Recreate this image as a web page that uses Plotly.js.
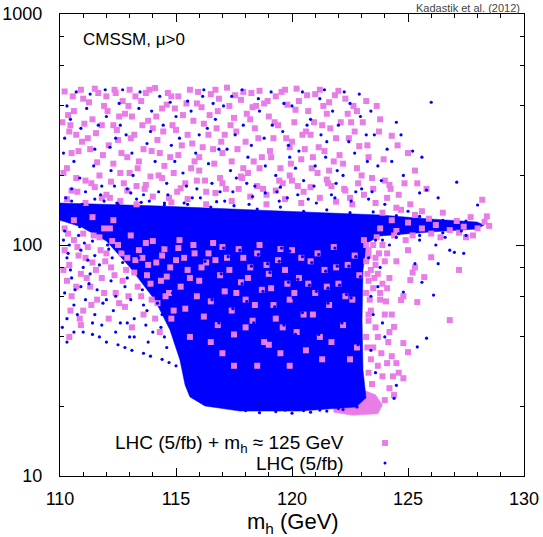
<!DOCTYPE html>
<html><head><meta charset="utf-8">
<script src="https://cdn.plot.ly/plotly-3.0.1.min.js"></script>
<style>html,body{margin:0;padding:0;background:#fff}#chart{width:543px;height:537px}</style>
</head><body><div id="chart"></div>
<script>
// ---- axis / tick data ----
const xTickVals = [110, 115, 120, 125, 130];
const yTickVals = [10, 100, 1000];
const yTickText = ['10', '100', '1000'];
const yMinorVals = [20, 40, 60, 80, 200, 400, 600, 800];
const seriesNames = ['LHC (5/fb) + m<sub>h</sub> \u2248 125 GeV', 'LHC (5/fb)'];
const xTitle = 'm<sub>h</sub> (GeV)';

// ---- outline of the region where the blue points merge into a solid cloud, [mh, y] ----
const blueCoreOutline = [[110.0,152],[114.31,147.5],[119.48,140.3],[123.79,134.9],[125.95,129.6],[127.97,125.8],[128.28,122.1],[127.97,117.3],[125.95,113.8],[123.79,109.4],[123.23,102],[123.06,78],[123.02,47.4],[123.06,28.8],[123.19,21.8],[122.76,19.9],[120.34,19.1],[117.76,19.1],[116.25,20.1],[115.6,22.0],[115.39,24.8],[115.17,31.8],[114.74,42.9],[114.09,57.8],[113.02,80],[112.0,104],[110.9,120],[110.0,128]];
// pink points piled up below the bottom-right of the cloud
const pinkEdgeOutline = [[121.8,19.6],[123.1,23.5],[123.6,22.5],[123.9,20.3],[123.7,18.6],[122.6,18.3],[121.8,18.9]];

// ---- LHC (5/fb) + mh ~ 125 GeV (pink squares), [mh, y] ----
const pinkUpper = [[110.2,462],[110.4,310],[110.3,215],[110.6,380],[110.5,172],[110.8,255],[111.0,430],[111.2,290],[111.1,190],[111.4,350],[111.5,475],[111.6,228],[111.9,400],[112.0,165],[112.1,270],[112.3,330],[112.4,455],[112.6,205],[112.8,370],[112.9,240],[113.0,470],[113.2,300],[113.3,180],[113.5,420],[113.6,260],[113.8,345],[113.9,198],[114.1,478],[114.2,285],[114.4,390],[114.5,220],[114.7,160],[114.8,440],[115.0,315],[115.1,245],[115.3,365],[115.4,185],[115.6,470],[115.7,275],[115.9,410],[116.0,210],[116.2,335],[116.3,170],[116.5,450],[116.6,260],[116.8,380],[116.9,195],[117.1,300],[117.2,480],[117.4,230],[117.5,355],[117.7,175],[117.8,425],[118.0,280],[118.1,205],[118.3,395],[118.4,320],[118.6,465],[118.7,240],[118.9,165],[119.0,360],[119.2,290],[119.3,440],[119.5,215],[119.6,185],[119.8,405],[119.9,265],[120.1,340],[120.2,475],[120.4,235],[120.5,170],[120.7,380],[120.8,300],[121.0,450],[121.1,205],[121.3,330],[121.4,255],[121.6,415],[121.7,180],[121.9,290],[122.0,465],[122.2,225],[122.4,370],[122.5,160],[122.7,310],[122.9,268],[123.0,200],[123.3,240],[123.5,175],[123.75,310],[124.3,297],[125.0,250],[124.0,190],[125.8,175],[124.6,165],
  [110.1,340],[110.9,470],[110.7,300],[111.3,260],[111.8,330],[112.0,440],[112.5,285],[112.7,420],[113.1,360],[113.4,230],[113.7,455],[114.0,320],[114.3,250],[114.6,405],[115.1,440],[115.5,300],[115.8,230],[116.1,395],[116.4,300],[116.7,470],[117.0,250],[117.3,400],[117.6,310],[117.9,460],[118.2,350],[118.6,215],[118.8,410],[119.1,240],[119.4,330],[119.7,470],[120.0,280],[120.3,420],[120.6,310],[120.9,240],[121.2,470],[121.5,370],[121.8,230],[122.1,340],[122.3,430],[122.8,380],[123.2,420],[123.8,350],[110.5,250],[111.7,200],[112.3,225],[113.0,205],[114.9,205],[116.0,240],[117.9,215],[119.9,200],[121.6,210],[122.8,215],
  [110.3,158],[110.7,195],[111.1,152],[111.5,178],[111.8,160],[112.2,188],[112.6,155],[112.9,172],[113.3,150],[113.7,182],[114.0,162],[114.4,195],[114.8,153],[115.2,176],[115.5,158],[115.9,190],[116.3,150],[116.7,168],[117.0,185],[117.4,155],[117.8,198],[118.2,162],[118.5,180],[118.9,150],[119.3,172],[119.7,158],[120.0,190],[120.4,152],[120.8,178],[121.2,160],[121.5,192],[121.9,154],[122.3,172],[122.6,150],[123.1,165],[123.6,152],[124.1,160],[124.5,145],[125.1,150],[125.6,140],
  [110.15,205],[110.35,365],[110.55,440],[110.75,170],[110.95,280],[111.05,335],[111.25,415],[111.35,185],[111.55,305],[111.65,455],[111.85,245],[112.05,380],[112.15,160],[112.35,470],[112.45,315],[112.65,250],[112.75,185],[112.95,400],[113.05,290],[113.25,440],[113.35,215],[113.55,330],[113.65,175],[113.85,470],[113.95,255],[114.15,360],[114.25,200],[114.45,310],[114.65,455],[114.75,240],[114.95,390],[115.05,170],[115.25,270],[115.45,410],[115.65,215],[115.75,345],[115.95,460],[116.15,265],[116.25,190],[116.45,365],[116.65,225],[116.85,430],[116.95,280],[117.15,175],[117.35,330],[117.55,445],[117.65,260],[117.85,195],[118.05,370],[118.25,455],[118.35,230],[118.55,290],[118.75,175],[118.95,420],[119.05,255],[119.25,340],[119.45,190],[119.55,460],[119.75,290],[119.95,225],[120.15,385],[120.25,180],[120.45,300],[120.65,445],[120.85,215],[120.95,340],[121.15,265],[121.35,400],[121.55,185],[121.65,320],[121.85,445],[122.05,245],[122.25,175],[122.45,290],[122.65,400],[122.85,185],[123.05,340],[123.25,270],[123.45,195],[123.65,400],[123.95,235],[124.25,175],[124.55,270],[124.85,185],[125.3,210],[110.45,330],[112.55,360],[114.85,330],[116.75,320],[118.45,400],[120.55,260],[122.55,340]];
const pinkLeft = [[110.2,95],[110.4,82],[110.3,70],[110.6,105],[110.5,60],[110.8,90],[110.9,75],[111.0,52],[111.2,98],[111.3,66],[111.4,84],[111.6,58],[111.7,108],[111.8,72],[112.0,92],[112.1,48],[112.2,80],[112.4,62],[112.5,100],[112.7,70],[112.8,54],[112.9,88],[113.1,44],[113.2,76],[113.4,95],[113.5,60],[113.6,50],[113.8,82],[113.9,68],[114.0,104],[114.2,56],[114.3,42],[114.4,90],[114.6,73],[114.7,62],[114.8,48],[115.0,86],[115.1,97],[115.2,66],[115.4,53],[115.5,78],[115.6,40],[115.8,92],[115.9,60],[116.0,70],[116.2,49],[116.3,84],[116.5,57],[116.6,102],[116.8,45],[116.9,74],[117.1,63],[117.2,88],[117.4,52],[117.5,41],[117.7,96],[117.8,69],[118.0,58],[118.2,80],[118.3,47],[118.5,92],[118.7,64],[118.8,38],[119.0,75],[119.2,55],[119.4,86],[119.6,44],[119.8,68],
  [110.2,118],[110.6,128],[111.0,112],[111.4,132],[111.9,118],[112.3,128],[110.4,40],[110.9,45],
  [110.15,78],[110.35,112],[110.45,52],[110.7,66],[110.75,98],[110.85,48],[111.1,88],[111.15,72],[111.35,55],[111.45,110],[111.55,78],[111.75,95],[111.9,62],[111.95,85],[112.15,118],[112.25,104],[112.35,74],[112.55,56],[112.65,92],[112.85,78],[112.95,60],[113.05,110],[113.25,86],[113.35,66],[113.55,88],[113.7,102],[113.75,74],[113.95,58],[114.1,48],[114.15,84],[114.35,70],[114.5,96],[114.55,60],[114.75,80],[114.9,52],[115.15,105],[115.35,88],[115.6,72],[115.75,100],[116.1,80],[116.4,92],[116.7,86],[117.0,98],[117.3,78],[117.6,62],[117.9,88],[118.1,72],[118.4,55],[118.6,100],[118.9,82],[119.1,65],[119.3,48],[119.5,96],[119.7,78],[119.9,58],[120.2,42],[120.4,88],[120.7,68],[120.9,50],[121.1,92],[121.5,66],[121.9,80],[122.3,60],[122.7,90],[116.5,38],[117.0,34],[117.5,30],[118.0,44],[118.5,30],[119.0,37],[119.5,34],[120.1,62],[121.7,38],[122.5,32]];
const pinkCore = [[120.0,95],[120.3,72],[120.5,50],[120.8,85],[121.0,62],[121.2,40],[121.4,78],[121.6,55],[121.8,98],[122.0,68],[122.2,45],[122.4,82],[122.6,58],[122.8,36],[122.9,74],[121.3,32],[120.6,35],[119.9,30]];
const pinkRight = [[123.1,105],[123.3,95],[123.2,85],[123.5,100],[123.4,78],[123.6,88],[123.3,70],[123.7,75],[123.2,62],[123.5,65],[123.8,58],[123.4,52],[123.9,68],[123.3,47],[123.6,44],[124.0,50],[123.2,40],[123.5,36],[124.2,42],[123.4,32],[123.7,30],[124.3,33],[123.9,27],[124.1,92],[124.5,85],[124.8,60],[125.0,95],[124.4,110],[123.8,118],[124.9,105],[125.3,80],[124.6,28],[124.2,24],
  [127.2,78],[126.8,47.3],[125.4,56.6],[125.7,72.6],[124.8,37.6],[125.0,34.4],[124.5,30.8],[124.8,26.5],[124.4,22.4],[124.0,21.3],[124.1,30.8],[124.4,44.2],[124.7,57.8],[125.1,70.5],[125.2,76],[126.0,88.5],[126.4,108],[127.5,108],[128.2,157],[128.4,133],[127.8,110],[125.4,185],[124.2,182],
  [123.9,138],[124.3,128],[124.7,142],[125.0,125],[125.3,135],[125.6,118],[125.9,130],[126.2,122],[126.5,138],[126.8,116],[127.1,127],[127.4,120],[127.7,132],[128.0,118],[128.3,126],[128.5,121],[126.0,112],[125.2,110],[124.5,115],[127.2,113],
  [123.2,100],[123.3,90],[123.25,75],[123.35,58],[123.3,50],[123.25,36],[123.3,28],[123.45,25],[123.6,82],[123.75,92],[123.55,72],[123.8,62],[123.7,40],[123.85,34],[123.9,100],[123.65,108],[124.0,85],[124.05,57],[124.2,72],[124.1,65],[124.3,50],[124.15,38],[124.35,27]];

// ---- LHC (5/fb) (blue dots), [mh, y] ----
const blueUpper = [[110.3,400],[110.6,230],[110.9,320],[111.1,170],[111.3,450],[111.5,260],[111.8,180],[112.0,360],[112.2,210],[112.4,290],[112.7,470],[112.9,175],[113.1,250],[113.4,390],[113.6,165],[113.9,310],[114.1,230],[114.3,440],[114.6,185],[114.8,270],[115.0,360],[115.3,205],[115.5,420],[115.7,160],[116.0,300],[116.2,470],[116.4,225],[116.7,350],[116.9,170],[117.2,260],[117.4,440],[117.6,195],[117.9,330],[118.1,240],[118.4,180],[118.6,380],[118.8,290],[119.1,460],[119.3,200],[119.6,310],[119.8,160],[120.0,400],[120.3,255],[120.5,190],[120.8,350],[121.0,220],[121.2,430],[121.5,280],[121.7,165],[122.0,330],[122.2,200],[122.5,410],[122.7,250],[123.0,175],[123.2,300],[123.4,380],[123.7,220],[124.1,260],[124.5,340],[125.2,255],[126.0,415],[124.8,200],[125.5,168],[126.3,160],[110.5,175],[111.9,155],[113.3,158],[114.5,152],[115.9,175],[117.1,155],[118.3,162],[119.5,178],[120.7,158],[121.9,185],[123.3,158],[124.0,150],[125.0,140],[125.8,173],[127.1,187],[128.0,149],[110.2,290],[112.6,330],[116.6,410],[119.9,240],[121.4,470],[122.9,450],
  [110.15,250],[110.45,350],[110.7,460],[110.85,195],[111.15,390],[111.45,220],[111.65,330],[111.95,470],[112.15,265],[112.35,180],[112.55,410],[112.85,300],[113.15,200],[113.45,460],[113.75,275],[113.95,380],[114.25,170],[114.45,330],[114.75,415],[114.95,230],[115.15,290],[115.45,180],[115.65,380],[115.85,250],[116.15,440],[116.35,320],[116.55,185],[116.85,260],[117.05,400],[117.35,210],[117.55,300],[117.85,470],[118.05,185],[118.25,270],[118.55,430],[118.85,220],[119.15,330],[119.35,170],[119.65,410],[119.85,270],[120.15,215],[120.45,460],[120.65,330],[120.95,180],[121.25,300],[121.45,240],[121.75,380],[121.95,210],[122.25,460],[122.45,280],[122.75,170],[122.95,360],[123.25,230],[123.55,300],[123.85,190],[124.3,230],[124.7,300],[125.6,240],[110.25,160],[110.95,150],[111.75,165],[112.45,152],[113.05,168],[113.85,155],[114.65,165],[115.35,152],[116.05,160],[116.75,154],[117.45,170],[118.15,150],[118.85,168],[119.45,155],[120.25,165],[121.05,152],[121.85,160],[122.55,155],[123.45,170]];
const blueBand = [[110.5,155],[111.5,158],[112.5,150],[113.5,153],[114.5,149],[115.5,150],[116.5,146],[117.5,148],[118.5,143],[119.5,146],[120.5,140],[121.5,142],[122.5,138],[123.5,139],[124.5,134],[125.5,133],[126.5,128],[127.5,127],[124.5,108],[125.5,110],[126.5,113],[127.3,115],[123.6,105]];
const blueCore = [[119.9,94],[120.25,71],[120.45,51],[120.85,84],[121.05,63],[121.15,41],[121.45,77],[121.55,56],[121.85,97],[122.05,67],[122.15,46],[122.45,81],[122.55,59],[122.85,37],[122.95,73],[117.05,97],[117.25,89],[117.45,53],[117.75,95],[117.85,68],[118.05,57],[118.25,81],[118.35,46],[118.55,91],[118.75,63],[119.05,76],[119.25,54],[119.45,85],[119.65,45],[119.85,69],[116.55,58],[116.85,46],[116.95,75],[116.25,85],[120.15,41],[120.45,89],[120.75,67],[121.15,91],[121.55,65],[121.95,81],[122.35,61],[122.75,89],[118.95,83],[119.55,97],[120.05,59]];
const blueLeft = [[110.2,115],[110.4,100],[110.3,88],[110.5,72],[110.2,62],[110.6,55],[110.3,48],[110.1,44],[110.8,110],[110.9,95],[111.0,80],[110.9,66],[111.1,58],[111.0,42],[111.3,120],[111.4,104],[111.5,90],[111.3,75],[111.6,64],[111.5,50],[111.8,45],[111.7,40],[112.0,112],[112.1,96],[112.2,70],[112.0,58],[112.3,52],[112.4,42],[112.5,37],[112.6,108],[112.7,84],[112.8,66],[112.9,46],[113.0,40],[113.1,35],[113.3,118],[113.4,100],[113.5,72],[113.6,55],[113.7,45],[113.8,38],[113.9,33],[114.1,92],[114.2,78],[114.3,64],[114.4,50],[114.5,40],[114.6,36],[114.7,31],[114.9,110],[115.0,70],[115.1,58],[115.2,44],[115.3,34],[115.4,29],[115.6,27],[115.8,25],[116.0,23.5],[116.3,22],[116.6,21],[117.0,20.3],[117.5,19.6],[118.0,19.2],[118.6,18.8],[119.3,19.0],[120.0,18.7],[120.8,18.9],[121.5,19.1],[122.2,19.4],[122.8,19.9],[116.2,24.8],[116.8,22.6],[117.4,21.3],[115.5,31],[115.0,38],[114.0,42],[113.2,48],
  [110.15,105],[110.35,92],[110.45,78],[110.65,64],[110.75,50],[110.85,120],[111.05,102],[111.2,86],[111.25,68],[111.4,46],[111.55,115],[111.7,82],[111.85,56],[112.05,100],[112.25,88],[112.4,60],[112.6,46],[112.75,96],[112.9,72],[113.05,58],[113.2,40],[113.4,88],[113.55,64],[113.75,52],[113.9,110],[114.05,72],[114.2,56],[114.35,44],[114.55,100],[114.7,86],[114.85,62],[115.05,50],[115.25,38],[115.4,42],[115.7,33],[115.9,28],[116.1,26],[116.4,23.6],[116.7,22.4],[117.2,21],[117.8,20.1],[118.4,19.6],[119.0,19.4],[119.7,19.3],[120.5,19.2],[121.2,19.3],[122.0,19.6],[112.0,38],[111.4,41],[110.6,42],[110.3,38],[112.8,36],[113.6,34],[114.4,32],[115.0,30],[115.7,29]];
const blueRight = [[125.8,39.5],[125.4,36.2],[126.1,60.7],[126.8,95],[127.0,93],[127.4,92],[126.3,83],[124.5,24.7],[124.4,21.7],[124.8,62.6],[125.3,83],[125.6,69],[123.5,50],[123.8,80],[124.0,40],[123.6,28],[123.4,60],[124.2,100],[123.9,105],[124.6,112],[125.5,105],[126.2,100],[126.6,108],[127.5,110],[123.3,88],[123.7,66],[123.4,35],[123.9,46]];

// ---- colours ----
const PINK = 'rgb(232,125,232)';
const BLUE = 'rgb(0,0,255)';
const FONT = 'Liberation Sans, Arial, Helvetica, sans-serif';

const xs = a => a.map(p => p[0]);
const ys = a => a.map(p => p[1]);
const closed = a => a.concat([a[0]]);

function area(pts, color) {
  const c = closed(pts);
  return {type:'scatter', mode:'lines', x:xs(c), y:ys(c), fill:'toself', fillcolor:color,
          line:{color:color, width:0.5}, hoverinfo:'skip', showlegend:false};
}

const pinkAll = pinkUpper.concat(pinkLeft, pinkCore, pinkRight);
const blueAll = blueUpper.concat(blueBand, blueCore, blueLeft, blueRight);

const traces = [
  area(pinkEdgeOutline, PINK),
  area(blueCoreOutline, BLUE),
  {type:'scatter', mode:'markers', name:seriesNames[0], x:xs(pinkAll), y:ys(pinkAll),
   marker:{symbol:'square', size:6, color:PINK, line:{width:0}}, showlegend:false},
  {type:'scatter', mode:'markers', name:seriesNames[1], x:xs(blueAll), y:ys(blueAll),
   marker:{symbol:'circle', size:3.2, color:BLUE, line:{width:0}}, showlegend:false}
];

const px = v => (v - 60) / 464;          // pixel -> paper helpers for text placement
const py = v => (476 - v) / 462;

const layout = {
  width:543, height:537,
  margin:{l:60, r:19, t:14, b:61, pad:0},
  paper_bgcolor:'#fff', plot_bgcolor:'#fff',
  font:{family:FONT, color:'#000'},
  showlegend:false,
  xaxis:{range:[110,130], tickmode:'array', tickvals:xTickVals, ticks:'inside', ticklen:8, tickwidth:1, tickcolor:'#000',
         minor:{tick0:110, dtick:1, ticks:'inside', ticklen:4, tickwidth:1, tickcolor:'#000'},
         showline:true, linecolor:'#000', linewidth:1.2, mirror:'ticks', showgrid:false, zeroline:false,
         tickfont:{size:18, family:FONT}, ticklabelstandoff:6},
  yaxis:{type:'log', range:[1,3], tickmode:'array', tickvals:yTickVals, ticktext:yTickText, ticks:'inside', ticklen:8, tickwidth:1, tickcolor:'#000',
         minor:{tickmode:'array', tickvals:yMinorVals, ticks:'inside', ticklen:4, tickwidth:1, tickcolor:'#000'},
         showline:true, linecolor:'#000', linewidth:1.2, mirror:'ticks', showgrid:false, zeroline:false,
         tickfont:{size:18, family:FONT}, ticklabelstandoff:13},
  annotations:[
    {xref:'paper', yref:'paper', x:px(293), y:py(538), xanchor:'center', yanchor:'bottom', showarrow:false,
     text:xTitle, font:{size:22, family:FONT}, borderpad:0},
    {xref:'paper', yref:'paper', x:px(81), y:py(39), xanchor:'left', yanchor:'middle', showarrow:false,
     text:'CMSSM, \u03bc>0', font:{size:17, family:FONT}},
    {xref:'paper', yref:'paper', x:px(346), y:py(444), xanchor:'right', yanchor:'middle', showarrow:false,
     text:seriesNames[0], font:{size:19, family:FONT}},
    {xref:'paper', yref:'paper', x:px(346), y:py(463), xanchor:'right', yanchor:'middle', showarrow:false,
     text:seriesNames[1], font:{size:19, family:FONT}},
    {xref:'paper', yref:'paper', x:px(522), y:py(0), xanchor:'right', yanchor:'top', showarrow:false,
     text:'Kadastik et al. (2012)', font:{size:11, family:FONT, color:'#444'}}
  ],
  shapes:[
    {type:'rect', xref:'paper', yref:'paper', xsizemode:'pixel', ysizemode:'pixel', xanchor:px(385), yanchor:py(443),
     x0:-3, x1:3, y0:-3, y1:3, fillcolor:PINK, line:{width:0}},
    {type:'circle', xref:'paper', yref:'paper', xsizemode:'pixel', ysizemode:'pixel', xanchor:px(385), yanchor:py(463),
     x0:-1.5, x1:1.5, y0:-1.5, y1:1.5, fillcolor:BLUE, line:{width:0}}
  ]
};

Plotly.newPlot('chart', traces, layout, {displayModeBar:false, staticPlot:true});
</script>
</body></html>
